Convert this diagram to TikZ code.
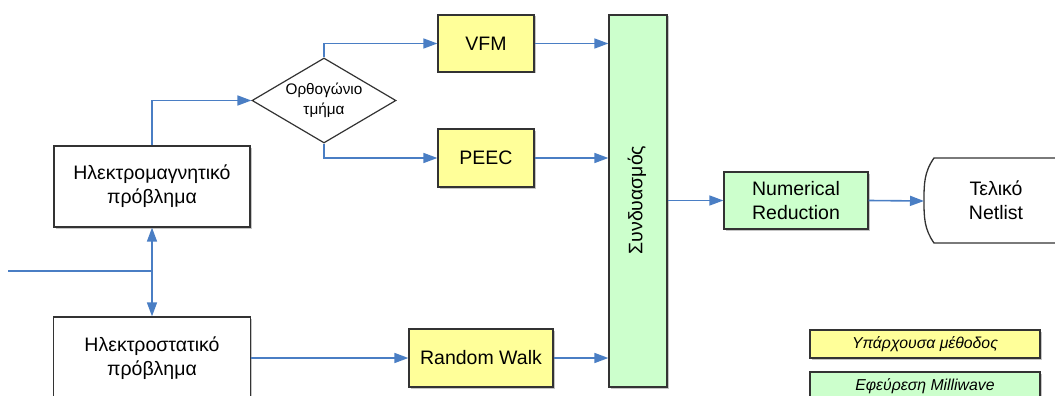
\documentclass[tikz,border=0pt]{standalone}
\usepackage{fontspec}
\setmainfont{Liberation Sans}
\usetikzlibrary{arrows.meta,shapes.geometric,shadows}
\definecolor{lineblue}{HTML}{4A7EC4}
\definecolor{boxyellow}{HTML}{FFFF99}
\definecolor{boxgreen}{HTML}{CCFFCC}
\definecolor{edgegray}{HTML}{333333}
\begin{document}
\begin{tikzpicture}[x=1pt,y=-1pt,
  box/.style={draw=edgegray, line width=1.3pt, inner sep=0pt, align=center,
    font=\fontsize{19.5}{24}\selectfont,
    drop shadow={shadow xshift=1.5pt,shadow yshift=-1.5pt,fill=black!45,opacity=0.5}},
  plainbox/.style={box, fill=white},
  yelbox/.style={box, fill=boxyellow},
  grnbox/.style={box, fill=boxgreen},
  legbox/.style={box, font=\fontsize{15.8}{18}\selectfont\itshape, minimum width=230pt, minimum height=28pt},
  conn/.style={draw=lineblue, line width=1.6pt},
  arr/.style={conn, -{Triangle[length=14pt,width=10pt]}},
]
\useasboundingbox (0,0) rectangle (1055,396);
\clip (0,0) rectangle (1055,396);

% nodes
\node[plainbox, minimum width=196pt, minimum height=81pt] (em) at (152,186.5) {Ηλεκτρομαγνητικό\\πρόβλημα};
\node[plainbox, minimum width=197pt, minimum height=82pt] (es) at (152,358) {Ηλεκτροστατικό\\πρόβλημα};
\node[draw=edgegray, line width=1.2pt, fill=white, diamond, aspect=1.7, inner sep=0pt,
      minimum width=144pt, minimum height=85pt, align=center,
      font=\fontsize{15.3}{20}\selectfont] (dia) at (324,100.5) {Ορθογώνιο\\τμήμα};
\node[yelbox, minimum width=96pt, minimum height=57pt] (vfm) at (486,43.5) {VFM};
\node[yelbox, minimum width=96pt, minimum height=58pt] (peec) at (486,158) {PEEC};
\node[yelbox, minimum width=144pt, minimum height=58pt] (rw) at (481,358) {Random Walk};
\node[grnbox, minimum width=58pt, minimum height=372pt] (comb) at (638,201) {};
\node[rotate=90, inner sep=0pt, font=\fontsize{19.5}{24}\selectfont] (combtext) at (637,200) {Συνδυασμός};
\node[grnbox, minimum width=144pt, minimum height=57pt] (nr) at (796,200.5) {Numerical\\Reduction};

% display-shaped terminal
\coordinate (net) at (924,201);
\draw[draw=edgegray, line width=1.3pt, fill=white]
  (1062,158) -- (934,158) to[out=235,in=90] (net) to[out=-90,in=125] (934,243) -- (1062,243);
\node[inner sep=0pt, align=center, font=\fontsize{19.5}{24}\selectfont] (nettext) at (996,200) {Τελικό\\Netlist};

% legend
\node[legbox, fill=boxyellow] (leg1) at (925,344) {Υπάρχουσα μέθοδος};
\node[legbox, fill=boxgreen] (leg2) at (925,386) {Εφεύρεση Milliwave};

% connectors
\coordinate (in) at (8,271);
\coordinate (j) at (152,271);
\draw[conn] (in) -- (j);
\draw[arr] (j) -- (em.south);
\draw[arr] (j) -- (es.north);
\draw[arr] (em.north) |- (dia.west);
\draw[arr] (dia.north) |- (vfm.west);
\draw[arr] (dia.south) |- (peec.west);
\draw[arr] (vfm.east) -- (vfm.east -| comb.west);
\draw[arr] (peec.east) -- (peec.east -| comb.west);
\draw[arr] (es.east) -- (rw.west);
\draw[arr] (rw.east) -- (rw.east -| comb.west);
\draw[arr] (nr.west -| comb.east) -- (nr.west);
\draw[arr] (nr.east) -- (net);
\end{tikzpicture}
\end{document}
